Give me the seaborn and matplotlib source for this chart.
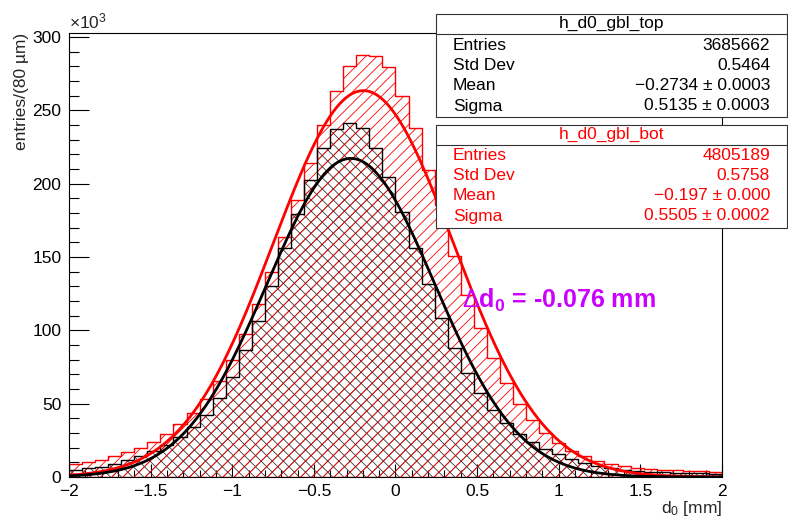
import numpy as np
import pandas as pd
import matplotlib
matplotlib.use("Agg")
import matplotlib.pyplot as plt
import seaborn as sns
from matplotlib.patches import Rectangle
from matplotlib.lines import Line2D
from matplotlib.ticker import MultipleLocator

# ---------------- data ----------------
# histogram binning: 50 bins of 80 um on [-2, 2] mm
n_bins = 50
bin_range = (-2.0, 2.0)
bin_edges = np.linspace(bin_range[0], bin_range[1], n_bins + 1)
bin_centers = 0.5 * (bin_edges[:-1] + bin_edges[1:])

# entries per bin, in units of 10^3
top_counts_k = [4.6, 5.8, 7.1, 9.2, 11.5, 14.2, 17.5, 22.0, 27.4, 34.2,
                42.3, 54.0, 68.5, 86.5, 106.5, 130.5, 156.0, 179.5, 202.5, 224.0,
                237.0, 241.3, 237.6, 224.0, 204.7, 180.9, 155.9, 131.5, 108.5, 88.0,
                71.2, 57.0, 45.7, 36.6, 29.6, 24.0, 19.0, 15.5, 12.2, 9.7,
                7.8, 6.2, 5.0, 4.3, 3.7, 3.3, 3.0, 2.7, 2.4, 2.1]
bot_counts_k = [9.0, 10.1, 11.6, 14.2, 17.0, 20.0, 24.0, 29.6, 35.8, 43.3,
                53.0, 65.4, 79.6, 97.3, 117.8, 139.9, 163.9, 189.0, 214.0, 240.3,
                263.3, 280.0, 288.0, 287.2, 279.4, 260.0, 237.7, 209.3, 185.4, 150.6,
                124.0, 101.4, 80.9, 64.0, 50.0, 39.0, 29.8, 23.5, 18.0, 14.0,
                11.0, 8.8, 7.3, 6.2, 5.4, 4.9, 4.5, 4.2, 3.9, 3.6]

# gaussian fit parameters (amplitude in 10^3)
top_fit_amp, top_fit_mean, top_fit_sigma = 217.2, -0.2734, 0.5135
bot_fit_amp, bot_fit_mean, bot_fit_sigma = 263.4, -0.197, 0.5505

top_title = "h_d0_gbl_top"
top_stat_names = ["Entries", "Std Dev", "Mean", "Sigma"]
top_stat_values = ["3685662", "0.5464", "\u22120.2734 \u00b1 0.0003", "0.5135 \u00b1 0.0003"]
bot_title = "h_d0_gbl_bot"
bot_stat_names = ["Entries", "Std Dev", "Mean", "Sigma"]
bot_stat_values = ["4805189", "0.5758", "\u22120.197 \u00b1 0.000", "0.5505 \u00b1 0.0002"]

y_ticks = [0, 50, 100, 150, 200, 250, 300]
x_ticks = [-2, -1.5, -1, -0.5, 0, 0.5, 1, 1.5, 2]
x_tick_labels = ["\u22122", "\u22121.5", "\u22121", "\u22120.5", "0", "0.5", "1", "1.5", "2"]

# ---------------- style ----------------
sns.set_style("ticks")
plt.rcParams['font.family'] = ['Liberation Sans', 'DejaVu Sans']
plt.rcParams['mathtext.fontset'] = 'custom'
plt.rcParams['mathtext.rm'] = 'Liberation Sans'
plt.rcParams['mathtext.it'] = 'Liberation Sans:italic'
plt.rcParams['mathtext.bf'] = 'Liberation Sans:bold'
plt.rcParams['hatch.linewidth'] = 0.6

FS = 12.5
W, H = 788, 527
fig = plt.figure(figsize=(W / 100, H / 100), dpi=100)
fig.patch.set_facecolor('white')
ax = fig.add_axes([69 / W, 1 - 477 / H, 653 / W, 444 / H])
ax.set_facecolor('white')

RED = '#ff0000'


def hist_fill(counts, hatch_color, hatch, edge_lw):
    df = pd.DataFrame({"d0": bin_centers, "entries": counts})
    n0 = len(ax.collections)
    sns.histplot(data=df, x="d0", weights="entries", bins=n_bins, binrange=bin_range,
                 element='step', fill=True, color=hatch_color, linewidth=edge_lw, ax=ax)
    for c in ax.collections[n0:]:
        c.set_facecolor('none')
        c.set_edgecolor(hatch_color)
        c.set_alpha(None)
        c.set_hatch(hatch)
        c.set_linewidth(edge_lw)


def hist_outline(counts, color):
    df = pd.DataFrame({"d0": bin_centers, "entries": counts})
    sns.histplot(data=df, x="d0", weights="entries", bins=n_bins, binrange=bin_range,
                 element='step', fill=False, color=color, linewidth=1.0, ax=ax)


# black (top) cross-hatch first, red (bot) hatch over it, then black outline
hist_fill(top_counts_k, '#3a3a3a', 'xxx', 0.0)
hist_fill(bot_counts_k, RED, '///', 1.0)
hist_outline(top_counts_k, 'black')

# fit curves
xs = np.linspace(-2, 2, 600)
bot_fit_y = bot_fit_amp * np.exp(-0.5 * ((xs - bot_fit_mean) / bot_fit_sigma) ** 2)
top_fit_y = top_fit_amp * np.exp(-0.5 * ((xs - top_fit_mean) / top_fit_sigma) ** 2)
sns.lineplot(x=xs, y=bot_fit_y, color=RED, linewidth=2.0, ax=ax)
sns.lineplot(x=xs, y=top_fit_y, color='black', linewidth=2.0, ax=ax)

ax.set_xlim(-2, 2)
ax.set_ylim(0, 302.7)

for s in ax.spines.values():
    s.set_visible(True)
    s.set_linewidth(0.8)
    s.set_color('black')

ax.set_xticks(x_ticks)
ax.set_xticklabels(x_tick_labels)
ax.set_yticks(y_ticks)
ax.xaxis.set_minor_locator(MultipleLocator(0.1))
ax.yaxis.set_minor_locator(MultipleLocator(10))
ax.tick_params(which='both', direction='in', top=False, right=False, width=0.8, colors='black')
ax.tick_params(axis='y', which='major', length=14.4, pad=5.5, labelsize=FS)
ax.tick_params(axis='y', which='minor', length=7.2)
ax.tick_params(axis='x', which='major', length=9.4, pad=4.8, labelsize=FS)
ax.tick_params(axis='x', which='minor', length=4.7)

ax.set_ylabel("entries/(80 \u00b5m)", fontsize=FS, loc='top')
ax.yaxis.set_label_coords(-0.062, 1.0)
ax.set_xlabel(r"d$_{\mathrm{0}}$ [mm]", fontsize=FS, loc='right')
ax.xaxis.set_label_coords(1.0, -0.05)

ax.text(0.0, 1.003, r"$\times$10$^{3}$", transform=ax.transAxes, ha='left', va='bottom', fontsize=FS)

fig.text(462 / W, 1 - 300 / H, r"$\Delta$d$_{\mathbf{0}}$ = -0.076 mm", fontsize=18,
         fontweight='bold', color='#cc00ff', ha='left', va='center')


# ---------------- stat boxes ----------------
def box(y0, y1, ysep, title, names, values, color, rows_y, title_y):
    x0, x1 = 436, 786.5
    fig.add_artist(Rectangle((x0 / W, 1 - y1 / H), (x1 - x0) / W, (y1 - y0) / H,
                             transform=fig.transFigure, facecolor='white',
                             edgecolor='#333333', linewidth=0.8, zorder=5))
    fig.add_artist(Line2D([x0 / W, x1 / W], [1 - ysep / H, 1 - ysep / H],
                          transform=fig.transFigure, color='#333333', linewidth=0.8, zorder=6))
    fig.text((x0 + x1) / 2 / W, 1 - title_y / H, title, ha='center', va='center',
             fontsize=FS, color=color, zorder=7)
    for n, v, yy in zip(names, values, rows_y):
        fig.text(453 / W, 1 - yy / H, n, ha='left', va='center', fontsize=FS, color=color, zorder=7)
        fig.text(770 / W, 1 - yy / H, v, ha='right', va='center', fontsize=FS, color=color, zorder=7)


box(14, 117, 34, top_title, top_stat_names, top_stat_values, 'black', [45, 65.5, 86, 106], 23.5)
box(125, 228, 145, bot_title, bot_stat_names, bot_stat_values, RED, [156, 176, 196, 216], 134)

fig.savefig("out.png", dpi=100, facecolor='white')
